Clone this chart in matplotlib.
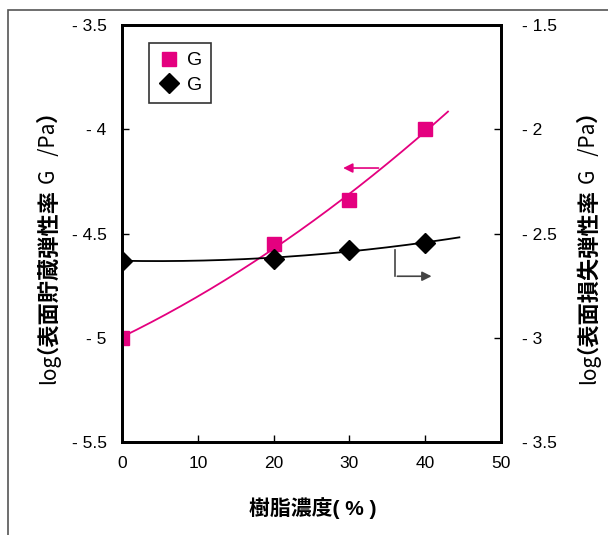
import numpy as np
import matplotlib.pyplot as plt
from matplotlib.patches import Rectangle

plt.rcParams['font.family'] = ['Liberation Sans', 'Noto Sans CJK JP', 'DejaVu Sans']

# data
conc = [0, 20, 30, 40]                       # 樹脂濃度 (%)
log_storage = [-5.0, -4.55, -4.34, -4.0]     # left axis, pink squares
log_loss = [-2.63, -2.62, -2.58, -2.545]     # right axis, black diamonds
legend_labels = ['G', 'G']

pink = '#E4007F'

fig = plt.figure(figsize=(6.08, 5.35), dpi=100)
ax = fig.add_axes([0.2007, 0.1738, 0.6234, 0.7795])
ax2 = ax.twinx()

# trend lines (quadratic fits)
xf = np.linspace(0, 43, 200)
ax.plot(xf, np.polyval(np.polyfit(conc, log_storage, 2), xf), color=pink, lw=1.3, zorder=2)
xf2 = np.linspace(0, 44.5, 200)
ax2.plot(xf2, np.polyval(np.polyfit(conc, log_loss, 2), xf2), color='black', lw=1.3, zorder=2)

ax.plot(conc, log_storage, 's', color=pink, ms=10, zorder=3)
ax2.plot(conc, log_loss, 'D', color='black', ms=10, zorder=3)

# arrows pointing to the axis each series belongs to
ax.annotate('', xy=(28.8, -4.186), xytext=(34.2, -4.186),
            arrowprops=dict(arrowstyle='-|>', color=pink, lw=1.2, mutation_scale=14))
ax2.plot([36.0, 36.0], [-2.58, -2.705], color='#444444', lw=1.2)
ax2.annotate('', xy=(41.2, -2.705), xytext=(35.95, -2.705),
             arrowprops=dict(arrowstyle='-|>', color='#444444', lw=1.2, mutation_scale=14))

ax.set_xlim(0, 50)
ax.set_ylim(-5.5, -3.5)
ax2.set_ylim(-3.5, -1.5)
ax.set_xticks([0, 10, 20, 30, 40, 50])
ax.set_yticks([-5.5, -5, -4.5, -4, -3.5])
ax2.set_yticks([-3.5, -3, -2.5, -2, -1.5])
ax.set_yticklabels(['- 5.5', '- 5', '- 4.5', '- 4', '- 3.5'])
ax2.set_yticklabels(['- 3.5', '- 3', '- 2.5', '- 2', '- 1.5'])

for a in (ax, ax2):
    a.tick_params(direction='in', length=5, width=1, labelsize=12.5, pad=11)
    for s in a.spines.values():
        s.set_linewidth(2)
ax.tick_params(axis='x', pad=10)
ax2.tick_params(pad=15)

# legend
h1, = ax.plot([], [], 's', color=pink, ms=10)
h2, = ax.plot([], [], 'D', color='black', ms=10)
leg = ax.legend([h1, h2], legend_labels, loc='upper left', bbox_to_anchor=(0.045, 0.98),
                fontsize=14, frameon=True, fancybox=False, edgecolor='black',
                handletextpad=0.3, borderpad=0.45, labelspacing=0.35, handlelength=1.2)
leg.get_frame().set_linewidth(1.2)

renderer = fig.canvas.get_renderer()


def vertical_label(x_px, y_px, parts):
    # pieces of one rotated label, stacked upward; dx nudges sideways, gap adjusts spacing
    y = y_px
    for txt, w, size, dx, gap in parts:
        t = fig.text((x_px + dx) / 608, 1 - y / 535, txt, rotation=90, rotation_mode='anchor',
                     ha='left', va='baseline', fontsize=size, fontweight=w,
                     family='Noto Sans CJK JP')
        y -= t.get_window_extent(renderer).height + gap


vertical_label(55, 384, [('log', 'normal', 15, 0, 0), ('（表面貯蔵弾性率', 'bold', 16, -13, -8),
                         ('G   /Pa', 'normal', 15, 0, 0), ('）', 'bold', 16, 0, 0)])
vertical_label(595, 384, [('log', 'normal', 15, 0, 0), ('（表面損失弾性率', 'bold', 16, -13, -8),
                          ('G   /Pa', 'normal', 15, 0, 0), ('）', 'bold', 16, 0, 0)])

fig.text(313 / 608, 1 - 508 / 535, '樹脂濃度( % )', ha='center', va='center',
         fontsize=15, fontweight='bold')

# outer frame (cut off at right and bottom)
fig.patches.append(Rectangle((8 / 608, -0.1), 1.2, 1 - 10 / 535 + 0.1, transform=fig.transFigure,
                             fill=False, edgecolor='#555555', lw=1.2))

fig.savefig('out.png', dpi=100)
